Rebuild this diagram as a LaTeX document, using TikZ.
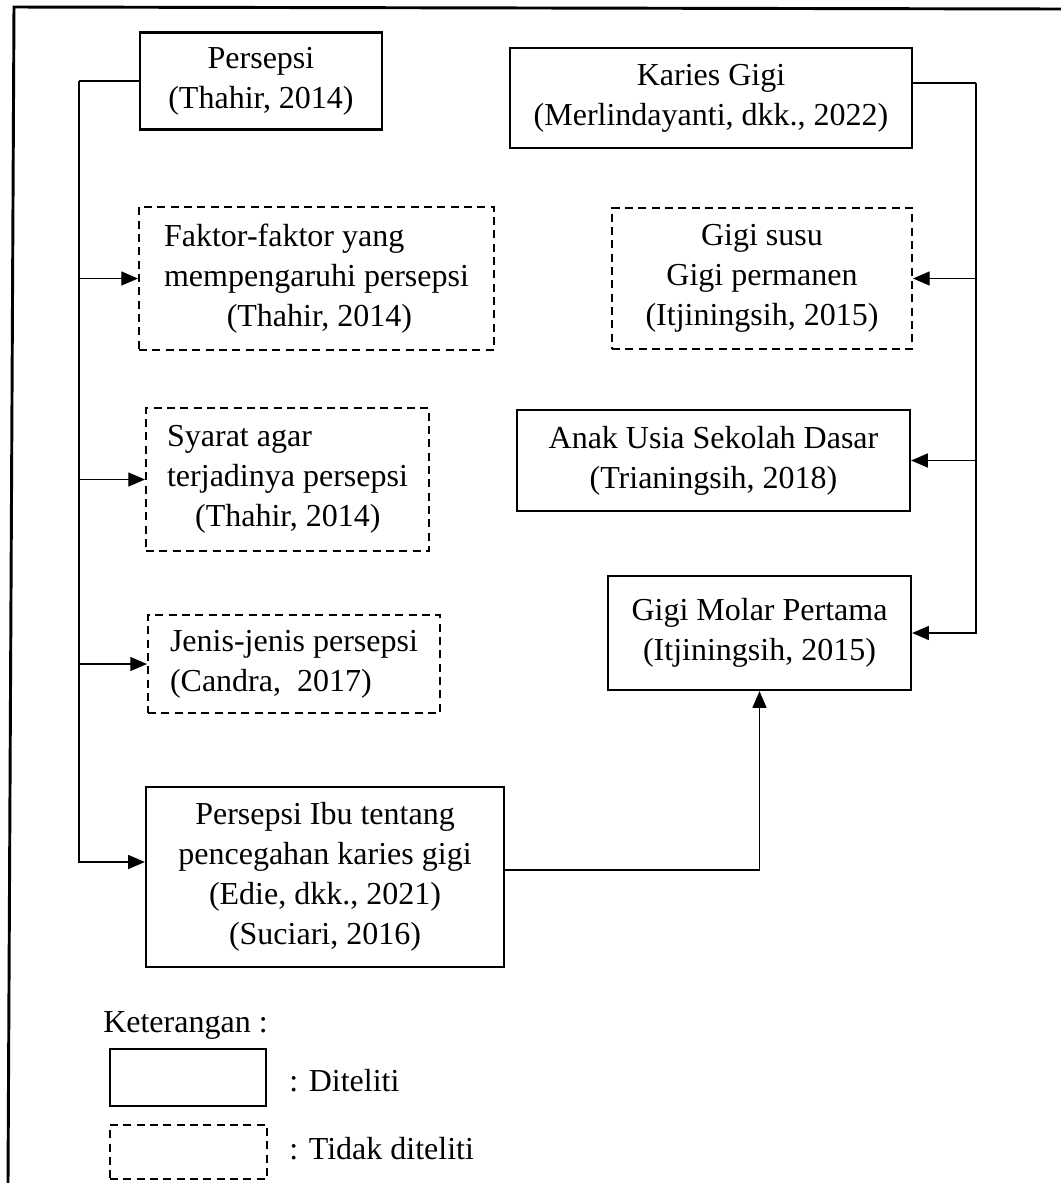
\documentclass[tikz,border=0pt]{standalone}
\usepackage{fontspec}
\setmainfont{Liberation Serif}
\usepackage{tikz}
\usetikzlibrary{arrows.meta}
\usetikzlibrary{calc}

\begin{document}
\begin{tikzpicture}[x=0.75pt,y=0.75pt,yscale=-1,xscale=1,
  font=\fontsize{24}{30}\selectfont,
  diteliti/.style={draw, line width=1.7pt, inner sep=0pt, align=center},
  tdkditeliti/.style={draw, line width=1.5pt, dash pattern=on 6pt off 4pt, inner sep=0pt, align=center},
  conn/.style={line width=0.9pt},
  arr/.style={conn, -{Triangle[length=12.5pt,width=10.5pt]}}]
\useasboundingbox (0,0) rectangle (1061,1183);
%frame
\draw [line width=2.2pt] (1061,9) -- (14,7) -- (8,1183) ;
%left column
\node [diteliti, minimum width=181.5pt, minimum height=72.75pt] (persepsi) at (261,81) {Persepsi\\(Thahir, 2014)};
\node [tdkditeliti, minimum width=266.25pt, minimum height=107.25pt, align=left] (faktor) at (316.5,278.5) {Faktor-faktor yang\\mempengaruhi persepsi\\\hspace*{47pt}(Thahir, 2014)};
\node [tdkditeliti, minimum width=212.25pt, minimum height=107.25pt, align=left] (syarat) at (287.5,479.5) {Syarat agar\\terjadinya persepsi\\\hspace*{21pt}(Thahir, 2014)};
\node [tdkditeliti, minimum width=219pt, minimum height=73.5pt, align=left] (jenis) at (294,664) {Jenis-jenis persepsi\\(Candra,~ 2017)};
\node [diteliti, minimum width=268.5pt, minimum height=135pt] (ibu) at (325,877) {Persepsi Ibu tentang\\pencegahan karies gigi\\(Edie, dkk., 2021)\\(Suciari, 2016)};
%right column
\node [diteliti, minimum width=301.5pt, minimum height=75pt] (karies) at (711,98) {Karies Gigi\\(Merlindayanti, dkk., 2022)};
\node [tdkditeliti, minimum width=225pt, minimum height=105.75pt] (susu) at (762,278.5) {Gigi susu\\Gigi permanen\\(Itjiningsih, 2015)};
\node [diteliti, minimum width=294.75pt, minimum height=75.75pt] (anak) at (713.5,460.5) {Anak Usia Sekolah Dasar\\(Trianingsih, 2018)};
\node [diteliti, minimum width=227.25pt, minimum height=85.5pt] (molar) at (759.5,633) {Gigi Molar Pertama\\(Itjiningsih, 2015)};
%connectors
\coordinate (ltop) at (79,81);
\coordinate (rtop) at (976,83);
\draw [conn] (persepsi.west) -- (ltop) ;
\draw [arr] (ltop) |- (faktor.west) ;
\draw [arr] (ltop) |- (syarat.west) ;
\draw [arr] (ltop) |- (jenis.west) ;
\draw [arr] (ltop) |- ($(ibu.west)+(0,-15)$) ;
\draw [conn] (karies.east |- rtop) -- (rtop) ;
\draw [arr] (rtop) |- (susu.east) ;
\draw [arr] (rtop) |- (anak.east) ;
\draw [arr] (rtop) |- (molar.east) ;
\draw [arr] ($(ibu.east)+(0,-7)$) -| (molar.south) ;
%legend
\node [anchor=west, inner sep=0pt] (ket) at (103,1025) {Keterangan :};
\node [diteliti, minimum width=117pt, minimum height=42.75pt] (lgya) at (188,1077.5) {};
\node [anchor=west, inner sep=0pt] (lgyatxt) at (289,1081) {: Diteliti};
\node [tdkditeliti, minimum width=117.75pt, minimum height=40.5pt] (lgtdk) at (188.5,1152) {};
\node [anchor=west, inner sep=0pt] (lgtdktxt) at (289,1149) {: Tidak diteliti};
\end{tikzpicture}
\end{document}
